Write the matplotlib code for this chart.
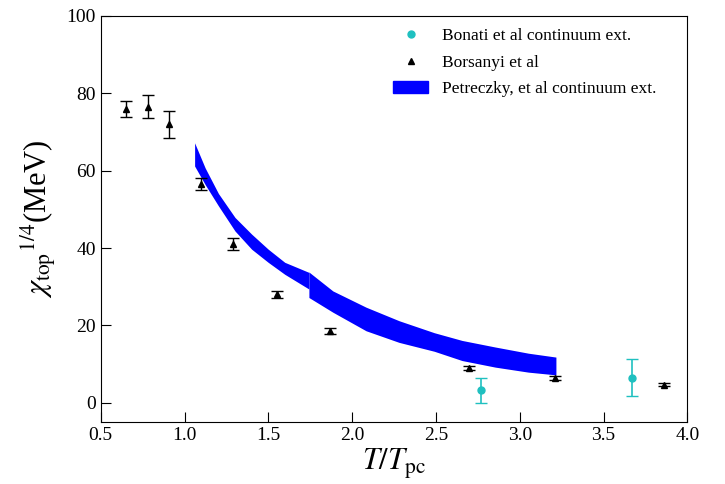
import numpy as np
import matplotlib
matplotlib.use("Agg")
import matplotlib.pyplot as plt
from matplotlib.lines import Line2D
from matplotlib.patches import Patch

# Borsanyi et al (lattice)
bor_t = [0.65, 0.78, 0.91, 1.10, 1.29, 1.55, 1.87, 2.70, 3.21, 3.86]
bor_chi = [76.0, 76.5, 72.0, 56.5, 41.0, 28.0, 18.5, 9.0, 6.5, 4.7]
bor_err = [2.0, 3.0, 3.5, 1.5, 1.5, 0.9, 0.7, 0.6, 0.5, 0.5]

# Bonati et al continuum ext.
bon_t = [2.77, 3.67]
bon_chi = [3.2, 6.5]
bon_err = [3.2, 4.8]

# Petreczky et al continuum ext. (two pieces of the band)
pet1_t = [1.060, 1.123, 1.202, 1.301, 1.400, 1.499, 1.598, 1.742]
pet1_lo = [61.2, 56.4, 50.9, 44.4, 39.7, 36.3, 33.2, 29.4]
pet1_hi = [67.2, 60.7, 54.1, 47.9, 43.6, 39.7, 36.3, 33.7]

pet2_t = [1.742, 1.885, 2.083, 2.280, 2.490, 2.656, 2.854, 3.052, 3.216]
pet2_lo = [27.2, 23.4, 18.6, 15.6, 13.3, 10.9, 9.2, 7.9, 7.2]
pet2_hi = [33.8, 28.9, 24.7, 21.2, 18.1, 16.1, 14.4, 12.8, 11.8]

plt.rcParams['font.family'] = ['Liberation Serif', 'DejaVu Serif']
plt.rcParams['mathtext.fontset'] = 'stix'

fig = plt.figure(figsize=(7.25, 4.84), dpi=100)
ax = fig.add_axes([0.139, 0.128, 0.809, 0.839])

cyan = '#1fc0c0'
blue = '#0000ff'

ax.errorbar(bon_t, bon_chi, yerr=bon_err, fmt='o', color=cyan, ms=5,
            capsize=4, elinewidth=1.2)
ax.errorbar(bor_t, bor_chi, yerr=bor_err, fmt='^', color='black', ms=5,
            capsize=4, elinewidth=1.0)
ax.fill_between(pet1_t, pet1_lo, pet1_hi, color=blue, lw=0)
ax.fill_between(pet2_t, pet2_lo, pet2_hi, color=blue, lw=0)

ax.set_xlim(0.5, 4.0)
ax.set_ylim(-5, 100)
ax.set_xticks([0.5, 1.0, 1.5, 2.0, 2.5, 3.0, 3.5, 4.0])
ax.set_yticks([0, 20, 40, 60, 80, 100])
ax.tick_params(direction='in', length=7, labelsize=14, top=False, right=False)

ax.set_xlabel(r'$T/T_{\rm pc}$', fontsize=22, labelpad=2)
ax.set_ylabel(r'$\chi_{\rm top}{}^{1/4}$(MeV)', fontsize=22, labelpad=6)

handles = [
    Line2D([], [], ls='none', marker='o', color=cyan, ms=5),
    Line2D([], [], ls='none', marker='^', color='black', ms=5),
    Patch(color=blue),
]
labels = ['Bonati et al continuum ext.', 'Borsanyi et al',
          'Petreczky, et al continuum ext.']
ax.legend(handles, labels, loc='upper right', bbox_to_anchor=(0.968, 1.0),
          frameon=False, fontsize=12.5, borderaxespad=0.3, labelspacing=0.6)

fig.savefig('out.png', dpi=100)
